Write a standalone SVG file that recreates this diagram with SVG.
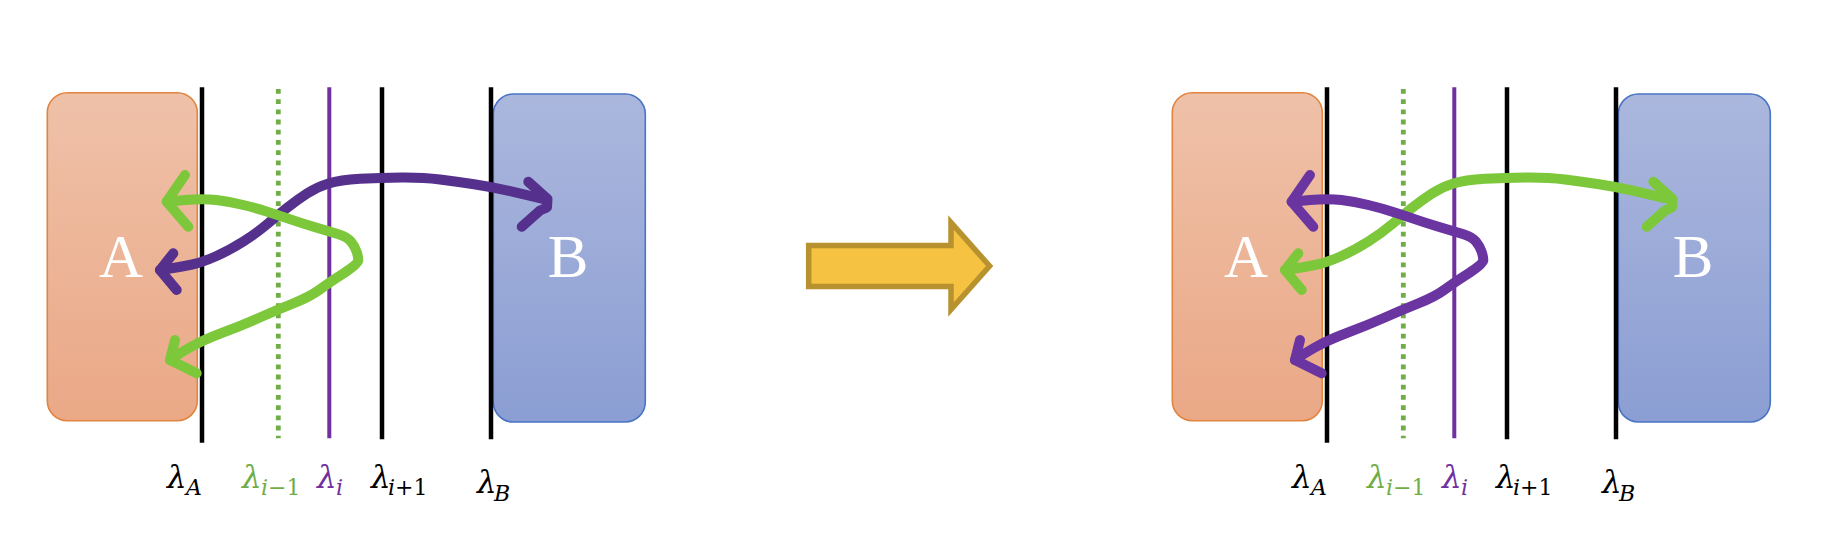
<svg xmlns="http://www.w3.org/2000/svg" width="1824" height="560" viewBox="0 0 1824 560">
  <defs>
    <linearGradient id="gA" x1="0" y1="0" x2="0" y2="1">
      <stop offset="0" stop-color="#efc1a9"/>
      <stop offset="1" stop-color="#eaa886"/>
    </linearGradient>
    <linearGradient id="gB" x1="0" y1="0" x2="0" y2="1">
      <stop offset="0" stop-color="#abb7dd"/>
      <stop offset="1" stop-color="#8b9ed3"/>
    </linearGradient>
    <path id="pathTop" d="M160,270 L170,268.5 Q180,267 191,264.75 Q202,262.5 216,256.25 Q230,250 243.35,241.5 Q256.7,233 267.35,224 Q278,215 287.5,207.5 Q297,200 307,193.5 Q317,187 328.5,183.5 Q340,180 360,178.85 Q380,177.7 401.5,177.5 Q423,177.3 440,179.5 Q457,181.7 474,184.2 Q491,186.7 509,190.85 Q527,195 547,200"/>
    <path id="pathLoop" d="M166.7,201.7 L184.85,200 Q203,198.3 216.5,200 Q230,201.7 243.35,205 Q256.7,208.3 267.35,211.65 Q278,215 287.5,218.35 Q297,221.7 313.5,226.7 Q330,231.7 338.5,234.2 Q347,236.7 351,241.7 Q355,246.7 356.65,251.7 Q358.3,256.7 358.3,260.35 Q358.3,264 344.15,273 Q330,282 320,289.35 Q310,296.7 293.35,303.35 Q276.7,310 259.85,317.5 Q243,325 223,332.5 Q203,340 189.85,347.5 Q176.7,355 170,360"/>
  </defs>
  <style>
    .boxA { fill: url(#gA); stroke: #e0843f; stroke-width: 1.6; }
    .boxB { fill: url(#gB); stroke: #4a74c4; stroke-width: 1.6; }
    .big { font-family: "Liberation Serif", serif; font-size: 61px; fill: #ffffff; text-anchor: middle; }
    .blk { stroke: #000000; stroke-width: 4.5; fill: none; }
    .dot { stroke: #70ad47; stroke-width: 4.8; stroke-dasharray: 4.8 5.4; fill: none; }
    .pl { stroke: #7030a0; stroke-width: 4; fill: none; }
    .arr { fill: none; stroke-width: 10; stroke-linecap: round; stroke-linejoin: round; }
    .grn { stroke: #7dc83a; }
    .pu1 { stroke: #55308c; }
    .pu2 { stroke: #6a35a0; }
    .lam { font-family: "DejaVu Serif", serif; font-style: italic; font-size: 31px; }
    .sub { font-family: "DejaVu Serif", serif; font-style: italic; font-size: 22px; }
    .up { font-style: normal; }
    .cG { fill: #70ad47; }
    .cP { fill: #7030a0; }
    .cK { fill: #000000; }
  </style>

  <!-- Left panel -->
  <g id="left-panel">
    <g id="nodeA-left">
      <rect class="boxA" x="47.3" y="92.7" width="150" height="328" rx="20" ry="20"/>
      <text class="big" x="121" y="277">A</text>
    </g>
    <g id="nodeB-left">
      <rect class="boxB" x="493.3" y="94" width="152" height="328" rx="20" ry="20"/>
      <text class="big" x="568" y="277">B</text>
    </g>
    <g id="lines-left">
      <line class="blk" x1="202" y1="87.3" x2="202" y2="442.7"/>
      <line class="dot" x1="278.3" y1="89" x2="278.3" y2="438.3"/>
      <line class="pl" x1="329.3" y1="87.3" x2="329.3" y2="438.3"/>
      <line class="blk" x1="382" y1="87.3" x2="382" y2="439.3"/>
      <line class="blk" x1="491" y1="87.3" x2="491" y2="439.3"/>
    </g>
    <g id="connectors-left">
      <use href="#pathTop" class="arr pu1"/>
      <polyline class="arr pu1" points="173.3,253.3 160,270 176.7,290"/>
      <polyline class="arr pu1" points="528.3,181.7 547.5,199 547,207.5 540,210.5 521.7,226.7"/>
      <use href="#pathLoop" class="arr grn"/>
      <polyline class="arr grn" points="185,175 166.7,201.7 188.3,226.7"/>
      <polyline class="arr grn" points="175,340 170,360 196.7,373.3"/>
    </g>
    <g id="labels-left">
      <text class="lam cK" x="167" y="488">λ</text><text class="sub cK" x="186" y="495">A</text>
      <text class="lam cG" x="242" y="488">λ</text><text class="sub cG" x="261" y="495">i<tspan class="up">−1</tspan></text>
      <text class="lam cP" x="317" y="488">λ</text><text class="sub cP" x="336" y="495">i</text>
      <text class="lam cK" x="371" y="488">λ</text><text class="sub cK" x="388" y="495">i<tspan class="up">+1</tspan></text>
      <text class="lam cK" x="477" y="493">λ</text><text class="sub cK" x="494" y="501">B</text>
    </g>
  </g>

  <!-- Transition arrow -->
  <g id="transition-arrow">
    <path d="M808.7,245.4 H951 V222.5 L989.6,266 L951,309.5 V286.6 H808.7 Z" fill="#f5c242" stroke="#b8922f" stroke-width="5.5" stroke-linejoin="miter"/>
  </g>

  <!-- Right panel -->
  <g id="right-panel" transform="translate(1125,0)">
    <g id="nodeA-right">
      <rect class="boxA" x="47.3" y="92.7" width="150" height="328" rx="20" ry="20"/>
      <text class="big" x="121" y="277">A</text>
    </g>
    <g id="nodeB-right">
      <rect class="boxB" x="493.3" y="94" width="152" height="328" rx="20" ry="20"/>
      <text class="big" x="568" y="277">B</text>
    </g>
    <g id="lines-right">
      <line class="blk" x1="202" y1="87.3" x2="202" y2="442.7"/>
      <line class="dot" x1="278.3" y1="89" x2="278.3" y2="438.3"/>
      <line class="pl" x1="329.3" y1="87.3" x2="329.3" y2="438.3"/>
      <line class="blk" x1="382" y1="87.3" x2="382" y2="439.3"/>
      <line class="blk" x1="491" y1="87.3" x2="491" y2="439.3"/>
    </g>
    <g id="connectors-right">
      <use href="#pathTop" class="arr grn"/>
      <polyline class="arr grn" points="173.3,253.3 160,270 176.7,290"/>
      <polyline class="arr grn" points="528.3,181.7 547.5,199 547,207.5 540,210.5 521.7,226.7"/>
      <use href="#pathLoop" class="arr pu2"/>
      <polyline class="arr pu2" points="185,175 166.7,201.7 188.3,226.7"/>
      <polyline class="arr pu2" points="175,340 170,360 196.7,373.3"/>
    </g>
    <g id="labels-right">
      <text class="lam cK" x="167" y="488">λ</text><text class="sub cK" x="186" y="495">A</text>
      <text class="lam cG" x="242" y="488">λ</text><text class="sub cG" x="261" y="495">i<tspan class="up">−1</tspan></text>
      <text class="lam cP" x="317" y="488">λ</text><text class="sub cP" x="336" y="495">i</text>
      <text class="lam cK" x="371" y="488">λ</text><text class="sub cK" x="388" y="495">i<tspan class="up">+1</tspan></text>
      <text class="lam cK" x="477" y="493">λ</text><text class="sub cK" x="494" y="501">B</text>
    </g>
  </g>
</svg>
